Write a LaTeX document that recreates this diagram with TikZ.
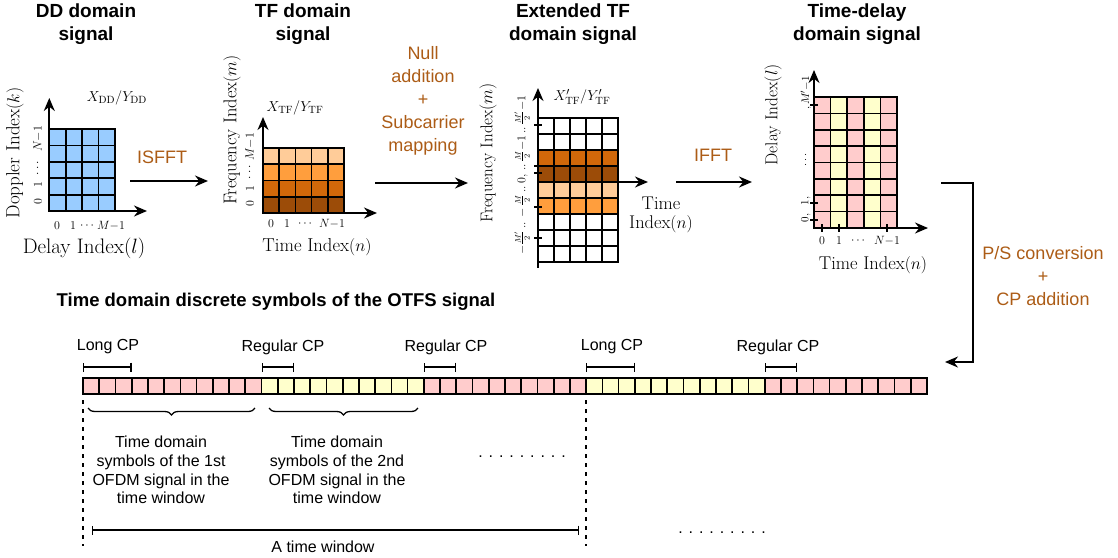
\documentclass[tikz,border=0pt]{standalone}
\usepackage{fontspec}
\setsansfont{Liberation Sans}
\usetikzlibrary{arrows.meta,decorations.pathreplacing,calc}
\definecolor{brn}{RGB}{172,92,22}
\definecolor{ddblue}{RGB}{153,204,255}
\definecolor{tfa}{RGB}{255,204,153}
\definecolor{tfb}{RGB}{255,158,61}
\definecolor{tfc}{RGB}{209,104,10}
\definecolor{tfd}{RGB}{156,76,8}
\definecolor{pk}{RGB}{255,204,204}
\definecolor{yl}{RGB}{255,255,204}
\newcommand{\myfs}[1]{\fontsize{#1}{#1}\selectfont}
\begin{document}
\begin{tikzpicture}[x=1pt,y=-1pt,line join=miter,
  ttl/.style={font=\sffamily\bfseries\fontsize{19}{23}\selectfont, align=center, inner sep=0},
  brw/.style={text=brn, font=\sffamily\fontsize{18}{23}\selectfont, align=center, inner sep=0},
  lab/.style={font=\sffamily\fontsize{16}{18.7}\selectfont, align=center, inner sep=0},
  axisline/.style={line width=1.8pt, -{Stealth[length=13pt,width=11pt]}},
  flow/.style={line width=1.6pt, -{Stealth[length=13pt,width=11pt]}},
  cell/.style={draw=black, line width=1.7pt},
  tk/.style={inner sep=0, font=\myfs{13}},
  vtk/.style={inner sep=0, font=\myfs{13}, rotate=90},
  ser/.style={inner sep=0},
  span/.style={line width=1.3pt, {Bar[width=9pt]}-{Bar[width=9pt]}},
  vdash/.style={line width=1.4pt, dash pattern=on 4pt off 5pt}
]
\useasboundingbox (0,0) rectangle (1118,557);

% ---------- titles ----------
\node[ttl] (t1) at (86,24) {DD domain\\signal};
\node[ttl] (t2) at (303,24) {TF domain\\signal};
\node[ttl] (t3) at (573,24) {Extended TF\\domain signal};
\node[ttl] (t4) at (857,24) {Time-delay\\domain signal};

% ---------- DD grid ----------
\foreach \i in {0,...,3}{\foreach \j in {0,...,4}{
  \draw[cell, fill=ddblue] ({49.3+16.4*\i},{129.3+16.34*\j}) rectangle ++(16.4,16.34);}}
\coordinate (ddO) at (49.3,211);
\draw[axisline] (ddO) -- (49.3,98);
\draw[axisline] (ddO) -- (147,211);
\node[ser, font=\myfs{15}] (ddx) at (117,98) {$X_{\mathrm{DD}}/Y_{\mathrm{DD}}$};
\node[ser, font=\myfs{19}, rotate=90] (ddy) at (15,153) {Doppler Index$(k)$};
\node[ser, font=\myfs{21}] (ddl) at (84,248) {Delay Index$(l)$};
\node[tk] (dda) at (57,226) {$0$};
\node[tk] (ddb) at (73,226) {$1$};
\node[tk] (ddc) at (87,226) {$\cdots$};
\node[tk] (ddd) at (111,226) {$M{-}1$};
\node[vtk] (dde) at (38,202) {$0$};
\node[vtk] (ddf) at (38,185) {$1$};
\node[vtk] (ddg) at (38,168) {$\cdots$};
\node[vtk] (ddh) at (38,139) {$N{-}1$};

% ---------- ISFFT ----------
\node[brw] (isfft) at (162,157) {ISFFT};
\coordinate (a1s) at (130,181);
\coordinate (a1e) at (208,181);
\draw[flow] (a1s) -- (a1e);

% ---------- TF grid ----------
\foreach \c [count=\j from 0] in {tfa,tfb,tfc,tfd}{\foreach \i in {0,...,4}{
  \draw[cell, fill=\c] ({263+16.2*\i},{148+16.25*\j}) rectangle ++(16.2,16.25);}}
\coordinate (tfO) at (263,213);
\draw[axisline] (tfO) -- (263,117);
\draw[axisline] (tfO) -- (377,213);
\node[ser, font=\myfs{15}] (tfx) at (295,108) {$X_{\mathrm{TF}}/Y_{\mathrm{TF}}$};
\node[ser, font=\myfs{18.5}, rotate=90] (tfy) at (232,130) {Frequency Index$(m)$};
\node[ser, font=\myfs{18.7}] (tfl) at (317,247) {Time Index$(n)$};
\node[tk] (tfa1) at (271,224) {$0$};
\node[tk] (tfa2) at (287,224) {$1$};
\node[tk] (tfa3) at (305,224) {$\cdots$};
\node[tk] (tfa4) at (332,224) {$N{-}1$};
\node[vtk] (tfb1) at (250,204) {$0$};
\node[vtk] (tfb2) at (250,189) {$1$};
\node[vtk] (tfb3) at (250,172) {$\cdots$};
\node[vtk] (tfb4) at (250,147) {$M{-}1$};

% ---------- Null addition ----------
\node[brw] (nulladd) at (423,101) {Null\\addition\\+\\Subcarrier\\mapping};
\coordinate (a2s) at (375,183);
\coordinate (a2e) at (468,183);
\draw[flow] (a2s) -- (a2e);

% ---------- Extended TF grid ----------
\foreach \c [count=\j from 0] in {white,white,tfc,tfd,tfa,tfb,white,white,white}{\foreach \i in {0,...,4}{
  \draw[cell, fill=\c] ({538+16*\i},{118+16*\j}) rectangle ++(16,16);}}
\coordinate (etO) at (538,182);
\draw[line width=1.8pt] (etO) -- (538,268);
\draw[axisline] (etO) -- (538,88);
\draw[axisline] (etO) -- (648,182);
\foreach \yy in {125,166,173,207,238}{\draw[line width=1.5pt] (534,\yy) -- (542,\yy);}
\node[ser, font=\myfs{15}] (etx) at (582,97) {$X'_{\mathrm{TF}}/Y'_{\mathrm{TF}}$};
\node[ser, font=\myfs{17}, rotate=90] (ety) at (488,153) {Frequency Index$(m)$};
\node[ser, font=\myfs{18.4}, align=center] (etl) at (661,215) {Time\\[1pt]Index$(n)$};
\node[ser, font=\myfs{11.5}, rotate=90] (etk) at (522,175) {$-\frac{M'}{2}\,..\,-\frac{M}{2}\,..\,0,\,..\,\frac{M}{2}{-}1\,..\,\frac{M'}{2}{-}1$};

% ---------- IFFT ----------
\node[brw] (ifft) at (713,155) {IFFT};
\coordinate (a3s) at (676,182);
\coordinate (a3e) at (752,182);
\draw[flow] (a3s) -- (a3e);

% ---------- Time-delay grid ----------
\foreach \c [count=\i from 0] in {pk,yl,pk,yl,pk}{\foreach \j in {0,...,7}{
  \draw[cell, fill=\c] ({814+16.6*\i},{97+16.375*\j}) rectangle ++(16.6,16.375);}}
\coordinate (tdO) at (814,228);
\draw[axisline] (tdO) -- (814,70);
\draw[axisline] (tdO) -- (928,228);
\foreach \xx in {822,839,887}{\draw[line width=1.5pt] (\xx,224) -- (\xx,232);}
\foreach \yy in {105,203,220}{\draw[line width=1.5pt] (810,\yy) -- (818,\yy);}
\node[ser, font=\myfs{17.3}, rotate=90] (tdy) at (773,115) {Delay Index$(l)$};
\node[ser, font=\myfs{18.5}] (tdl) at (873,265) {Time Index$(n)$};
\node[tk] (tda1) at (822,241) {$0$};
\node[tk] (tda2) at (839,241) {$1$};
\node[tk] (tda3) at (858,241) {$\cdots$};
\node[tk] (tda4) at (887,241) {$N{-}1$};
\node[vtk, font=\myfs{11}] (tdb1) at (806,218) {$0,$};
\node[vtk, font=\myfs{11}] (tdb2) at (806,201) {$1,$};
\node[vtk, font=\myfs{11}] (tdb3) at (806,160) {$\cdots$};
\node[vtk, font=\myfs{11}] (tdb4) at (806,93) {$,M'{-}1$};

% ---------- P/S conversion ----------
\coordinate (a4s) at (941,183);
\coordinate (a4c) at (973,362);
\coordinate (a4e) at (945,362);
\draw[line width=1.6pt, -{Stealth[length=13pt,width=11pt]}] (a4s) -| (a4c) -- (a4e);
\node[brw] (ps) at (1043,276) {P/S conversion\\+\\CP addition};

% ---------- bottom ----------
\node[ttl, font=\sffamily\bfseries\fontsize{18.5}{22}\selectfont] (bt) at (276,302) {Time domain discrete symbols of the OTFS signal};

\foreach \k in {0,...,10}{\draw[cell,fill=pk] ({83+16.23*\k},378) rectangle ++(16.23,16);}
\foreach \k in {11,...,20}{\draw[cell,fill=yl] ({83+16.23*\k},378) rectangle ++(16.23,16);}
\foreach \k in {21,...,30}{\draw[cell,fill=pk] ({83+16.23*\k},378) rectangle ++(16.23,16);}
\foreach \k in {31,...,41}{\draw[cell,fill=yl] ({83+16.23*\k},378) rectangle ++(16.23,16);}
\foreach \k in {42,...,51}{\draw[cell,fill=pk] ({83+16.23*\k},378) rectangle ++(16.23,16);}

% CP markers
\coordinate (c1a) at (83,367);    \coordinate (c1b) at (131.7,367);
\coordinate (c2a) at (261.5,367); \coordinate (c2b) at (294,367);
\coordinate (c3a) at (423.8,367); \coordinate (c3b) at (456.3,367);
\coordinate (c4a) at (586.1,367); \coordinate (c4b) at (634.8,367);
\coordinate (c5a) at (764.7,367); \coordinate (c5b) at (797.2,367);
\draw[span] (c1a) -- (c1b);
\draw[span] (c2a) -- (c2b);
\draw[span] (c3a) -- (c3b);
\draw[span] (c4a) -- (c4b);
\draw[span] (c5a) -- (c5b);
\node[lab] (l1) at (108,347) {Long CP};
\node[lab] (l2) at (283,347) {Regular CP};
\node[lab] (l3) at (446,347) {Regular CP};
\node[lab] (l4) at (612,347) {Long CP};
\node[lab] (l5) at (778,347) {Regular CP};

% window
\coordinate (w1t) at (83,400);  \coordinate (w1b) at (83,546);
\coordinate (w2t) at (586,400); \coordinate (w2b) at (586,546);
\draw[vdash] (w1t) -- (w1b);
\draw[vdash] (w2t) -- (w2b);
\draw[decorate, decoration={brace, amplitude=7pt, mirror}, line width=1.3pt] (88,408) -- (255,408);
\draw[decorate, decoration={brace, amplitude=7pt, mirror}, line width=1.3pt] (269,408) -- (418,408);
\node[lab] (s1) at (161,470) {Time domain\\symbols of the 1st\\OFDM signal in the\\time window};
\node[lab] (s2) at (337,470) {Time domain\\symbols of the 2nd\\OFDM signal in the\\time window};
\node[lab] (d1) at (522,457) {. . . . . . . . .};
\node[lab] (d2) at (722,533) {. . . . . . . . .};
\coordinate (tw1) at (92,530); \coordinate (tw2) at (579,530);
\draw[span] (tw1) -- (tw2);
\node[lab] (tw) at (323,547) {A time window};
\end{tikzpicture}
\end{document}
